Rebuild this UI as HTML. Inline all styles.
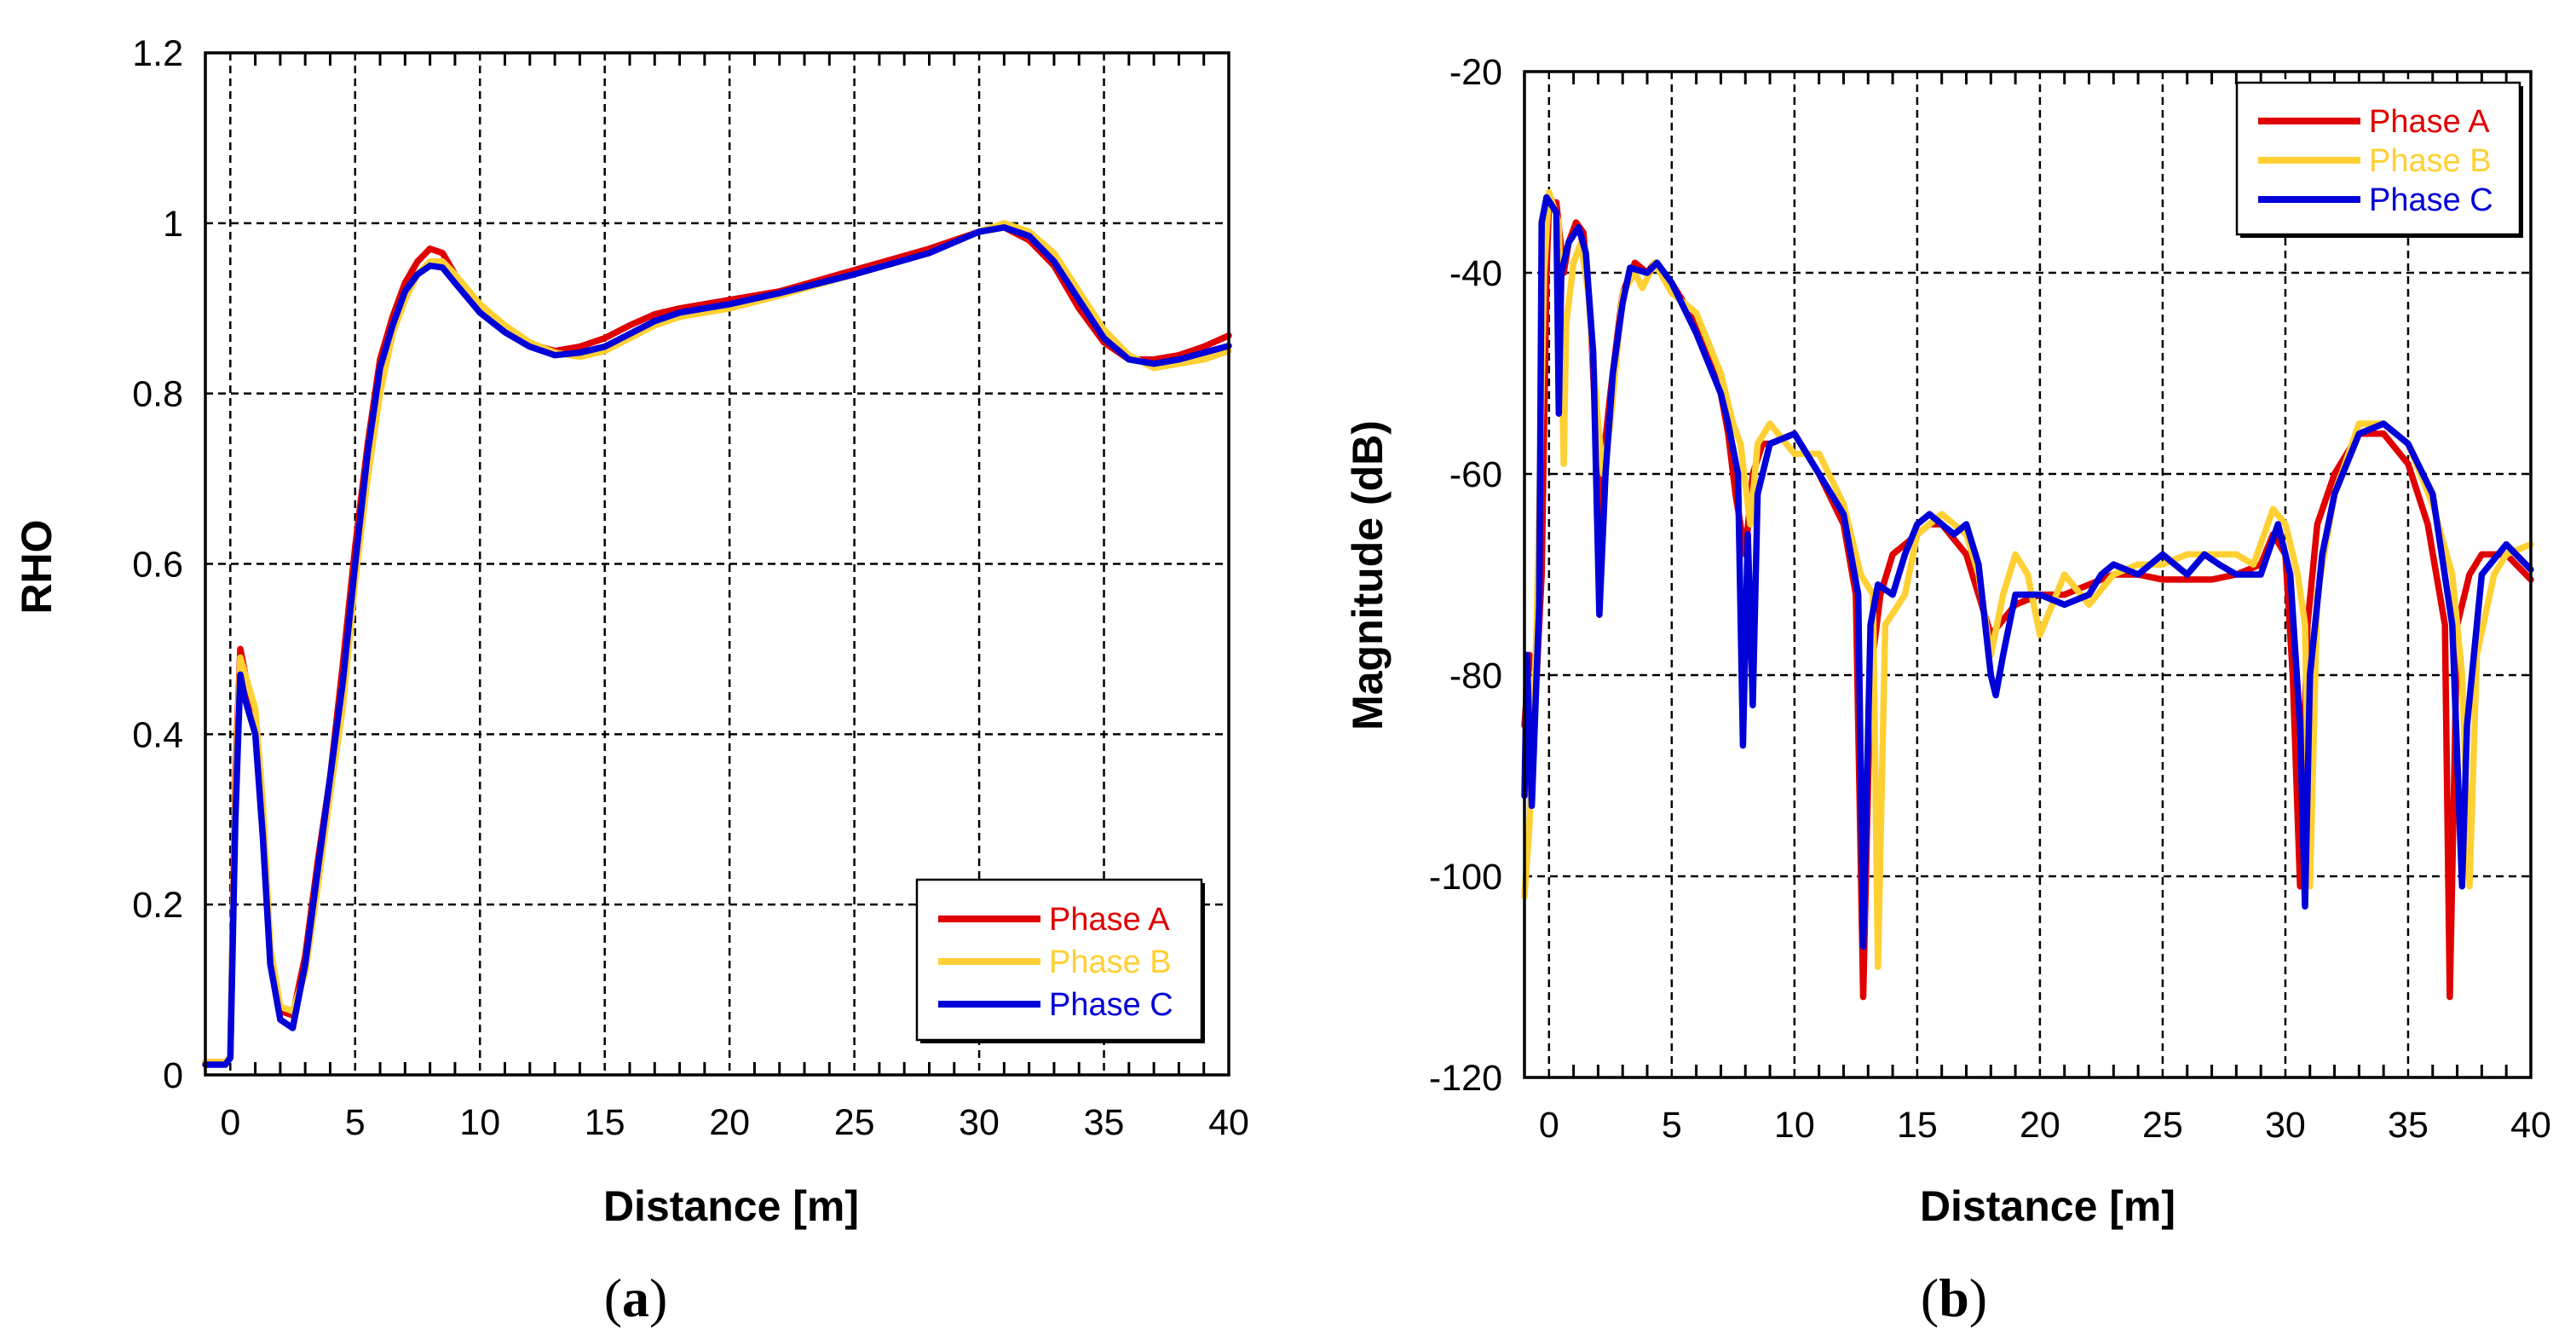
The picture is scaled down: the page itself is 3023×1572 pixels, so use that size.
<!DOCTYPE html>
<html><head><meta charset="utf-8"><style>
html,body{margin:0;padding:0;background:#fff;}
svg{display:block;font-family:"Liberation Sans",Arial,sans-serif;}
</style></head><body>
<svg id="fig" width="3023" height="1572" viewBox="0 0 3023 1572" xmlns="http://www.w3.org/2000/svg">
<g id="chartA"></g>
<g id="chartB"></g>
<text x="858" y="1432" font-size="50" font-weight="bold" text-anchor="middle">Distance [m]</text>
<text x="2403" y="1432" font-size="50" font-weight="bold" text-anchor="middle">Distance [m]</text>
<text transform="translate(60,665) rotate(-90)" font-size="50" font-weight="bold" text-anchor="middle">RHO</text>
<text transform="translate(1622,675) rotate(-90)" font-size="50" font-weight="bold" text-anchor="middle">Magnitude (dB)</text>
<text x="746" y="1544" font-size="64" font-family="Liberation Serif,serif" text-anchor="middle">(<tspan font-weight="bold">a</tspan>)</text>
<text x="2293" y="1544" font-size="64" font-family="Liberation Serif,serif" text-anchor="middle">(<tspan font-weight="bold">b</tspan>)</text>
</svg>
<script>
// ---- Chart (a) data: RHO ----
const rhoXA=[-1,-0.2,0,0.2,0.4,0.6,1,1.3,1.6,2,2.5,3,3.5,4,4.5,5,5.5,6,6.5,7,7.5,8,8.5,9,10,11,12,13,14,15,16,17,18,20,22,25,28,30,31,32,33,34,35,36,37,38,39,40];
const rhoA=[0.015,0.015,0.02,0.35,0.5,0.47,0.42,0.3,0.14,0.075,0.07,0.14,0.25,0.35,0.48,0.62,0.74,0.84,0.89,0.93,0.955,0.97,0.965,0.94,0.9,0.875,0.858,0.85,0.855,0.865,0.88,0.893,0.9,0.91,0.92,0.945,0.97,0.99,0.995,0.98,0.95,0.9,0.86,0.84,0.84,0.845,0.855,0.868];
const rhoXB=[-1,-0.2,0,0.2,0.4,0.6,1,1.3,1.6,2,2.5,3,3.5,4,4.5,5,5.5,6,6.5,7,7.5,8,8.5,9,10,11,12,13,14,15,16,17,18,20,22,25,28,30,31,32,33,34,35,36,37,38,39,40];
const rhoB=[0.015,0.015,0.02,0.33,0.49,0.47,0.43,0.32,0.15,0.08,0.075,0.12,0.22,0.33,0.43,0.58,0.7,0.8,0.87,0.91,0.94,0.955,0.955,0.94,0.905,0.88,0.86,0.848,0.843,0.85,0.865,0.88,0.89,0.9,0.915,0.94,0.965,0.99,1.0,0.99,0.965,0.92,0.875,0.845,0.83,0.835,0.84,0.85];
const rhoXC=[-1,-0.2,0,0.2,0.4,0.6,1,1.3,1.6,2,2.5,3,3.5,4,4.5,5,5.5,6,6.5,7,7.5,8,8.5,9,10,11,12,13,14,15,16,17,18,20,22,25,28,30,31,32,33,34,35,36,37,38,39,40];
const rhoC=[0.012,0.012,0.02,0.3,0.47,0.44,0.4,0.28,0.13,0.065,0.055,0.13,0.24,0.35,0.46,0.6,0.73,0.83,0.88,0.92,0.94,0.95,0.948,0.93,0.895,0.872,0.855,0.845,0.848,0.855,0.87,0.885,0.895,0.905,0.918,0.94,0.965,0.99,0.995,0.985,0.955,0.91,0.865,0.84,0.835,0.84,0.848,0.856];
const rhoYTicks=[0,0.2,0.4,0.6,0.8,1,1.2];
const rhoYLabels=["0","0.2","0.4","0.6","0.8","1","1.2"];
// ---- Chart (b) data: Magnitude dB ----
const magXA=[-1,-0.8,-0.5,-0.3,-0.1,0,0.3,0.6,0.8,1.1,1.4,1.7,1.9,2.05,2.15,2.5,3,3.5,4,4.3,5,6,7,7.3,7.6,8,8.3,8.7,9,10,11,12,12.5,12.8,13.1,13.5,14,14.5,15,15.5,16,17,17.5,18,19,20,21,22,23,24,25,26,27,28,29,29.5,30,30.3,30.6,30.9,31.3,32,33,34,35,35.8,36.5,36.7,37,37.5,38,39,40];
const magA=[-85,-78,-80,-70,-40,-33,-33,-40,-37,-35,-36,-45,-55,-72,-60,-52,-42,-39,-40,-39,-41,-45,-52,-56,-62,-68,-60,-57,-57,-56,-60,-65,-72,-112,-80,-72,-68,-67,-66,-65,-65,-68,-72,-76,-73,-72,-72,-71,-70,-70,-70.5,-70.5,-70.5,-70,-69,-66,-68,-80,-101,-75,-65,-60,-56,-56,-59,-65,-75,-112,-75,-70,-68,-68,-70.5];
const magXB=[-1,-0.8,-0.5,-0.2,0,0.4,0.6,0.7,1,1.3,1.6,2,2.2,2.5,3,3.5,3.8,4.3,5,6,7,7.5,7.8,8.2,8.5,9,10,11,12,12.7,13.2,13.4,13.7,14.5,15,16,17,17.5,18,18.5,19,19.5,20,20.5,21,22,23,24,25,26,27,28,28.7,29.5,30,30.5,30.8,31,31.3,32,33,34,35,36,36.8,37.2,37.5,37.8,38.5,39,40];
const magB=[-102,-95,-75,-40,-32,-35,-59,-45,-39,-37,-42,-55,-60,-55,-42,-40,-41.5,-39,-42,-44,-50,-55,-57,-65,-57,-55,-58,-58,-63,-70,-72,-109,-75,-72,-66,-64,-66,-70,-78,-72,-68,-70,-76,-73,-70,-73,-70,-69,-69,-68,-68,-68,-69,-63.5,-65,-70,-75,-101,-72,-62,-55,-55,-57,-63,-70,-80,-101,-78,-70,-68,-67];
const magXC=[-1,-0.9,-0.7,-0.4,-0.3,-0.1,0.3,0.4,0.5,0.8,1.2,1.5,1.8,2.05,2.3,2.6,3,3.3,4,4.4,5,6,7,7.3,7.7,7.9,8.1,8.3,8.5,9,10,11,12,12.6,12.8,13.1,13.4,14,14.5,15,15.5,16,16.5,17,17.5,18,18.2,18.5,19,20,21,22,22.5,23,24,25,26,26.7,27.3,28,29,29.7,30.2,30.6,30.8,31,31.5,32,33,34,35,36,36.8,37.2,37.4,38,39,40];
const magC=[-92,-78,-93,-73,-35,-32.5,-34,-54,-40,-37,-35.5,-38,-48,-74,-60,-50,-43,-39.5,-40,-39,-41,-46,-52,-55,-60,-87,-66,-83,-62,-57,-56,-60,-64,-72,-107,-75,-71,-72,-68,-65,-64,-65,-66,-65,-69,-80,-82,-78,-72,-72,-73,-72,-70,-69,-70,-68,-70,-68,-69,-70,-70,-65,-70,-85,-103,-80,-68,-62,-56,-55,-57,-62,-75,-101,-85,-70,-67,-69.5];
const magYTicks=[-120,-100,-80,-60,-40,-20];
const magYLabels=["-120","-100","-80","-60","-40","-20"];
const xTicks=[0,5,10,15,20,25,30,35,40];
const xLabels=["0","5","10","15","20","25","30","35","40"];
const seriesNames=["Phase A","Phase B","Phase C"];
const colors=["#e00000","#ffd033","#0000d8"];

const NS="http://www.w3.org/2000/svg";
function mk(parent,tag,attrs){const e=document.createElementNS(NS,tag);for(const k in attrs)e.setAttribute(k,attrs[k]);parent.appendChild(e);return e;}

function drawChart(g,cfg){
  const sx=v=>cfg.L+(v-cfg.xmin)/(cfg.xmax-cfg.xmin)*(cfg.R-cfg.L);
  const sy=v=>cfg.B-(v-cfg.ymin)/(cfg.ymax-cfg.ymin)*(cfg.B-cfg.T);
  cfg.yTicks.forEach((t,i)=>{
    if(t!==cfg.ymin&&t!==cfg.ymax){const l=mk(g,'line',{x1:cfg.L,x2:cfg.R,y1:sy(t),y2:sy(t),stroke:'#000','stroke-width':2.5,'stroke-dasharray':'9 6'});
    
    }
    const tx=mk(g,'text',{x:cfg.L-26,y:sy(t)+15,'font-size':43,'text-anchor':'end'});
    tx.textContent=cfg.yLabels[i];
    
    
  });
  xTicks.forEach((t,i)=>{
    if(t!==cfg.xmax){const l=mk(g,'line',{x1:sx(t),x2:sx(t),y1:cfg.T,y2:cfg.B,stroke:'#000','stroke-width':2.5,'stroke-dasharray':'9 6'});
    
    }
    const tx=mk(g,'text',{x:sx(t),y:cfg.B+70,'font-size':43,'text-anchor':'middle'});
    tx.textContent=xLabels[i];
    
    
  });
  for(let v=Math.ceil(cfg.xmin);v<cfg.xmax;v++){
    if(v%5===0) continue;
    const a=mk(g,'line',{x1:sx(v),x2:sx(v),y1:cfg.T,y2:cfg.T+15,stroke:'#000','stroke-width':3});
    
    
    const b=mk(g,'line',{x1:sx(v),x2:sx(v),y1:cfg.B,y2:cfg.B-15,stroke:'#000','stroke-width':3});
    
    
  }
  cfg.series.forEach((s,i)=>{
    const d=s.x.map((xv,j)=>(j?'L':'M')+sx(xv).toFixed(1)+' '+sy(s.y[j]).toFixed(1)).join(' ');
    const p=mk(g,'path',{d:d,fill:'none',stroke:colors[i],'stroke-width':7.5,'stroke-linejoin':'round','stroke-linecap':'round'});
    
    
  });
  const fr=mk(g,'rect',{x:cfg.L,y:cfg.T,width:cfg.R-cfg.L,height:cfg.B-cfg.T,fill:'none',stroke:'#000','stroke-width':3.5});
  
  
  const lg=cfg.legend;
  const lgG=mk(g,'g',{});
  
  
  mk(lgG,'rect',{x:lg.x+4,y:lg.y+4,width:lg.w,height:lg.h,fill:'#000'});
  mk(lgG,'rect',{x:lg.x,y:lg.y,width:lg.w,height:lg.h,fill:'#fff',stroke:'#000','stroke-width':2.5});
  seriesNames.forEach((n,i)=>{
    const yy=lg.y+lg.r0+i*lg.dy;
    const ln=mk(lgG,'line',{x1:lg.x+25,x2:lg.x+145,y1:yy,y2:yy,stroke:colors[i],'stroke-width':8});
    
    
    const t=mk(lgG,'text',{x:lg.x+155,y:yy+13,'font-size':38,fill:colors[i]});
    t.textContent=n;
    
    
  });
}

drawChart(document.getElementById('chartA'),{L:241,R:1442,T:62,B:1261,xmin:-1,xmax:40,ymin:0,ymax:1.2,
  yTicks:rhoYTicks,yLabels:rhoYLabels,
  series:[{x:rhoXA,y:rhoA},{x:rhoXB,y:rhoB},{x:rhoXC,y:rhoC}],
  legend:{x:1076,y:1032,w:334,h:188,r0:46,dy:50}});
drawChart(document.getElementById('chartB'),{L:1789,R:2970,T:84,B:1264,xmin:-1,xmax:40,ymin:-120,ymax:-20,
  yTicks:magYTicks,yLabels:magYLabels,
  series:[{x:magXA,y:magA},{x:magXB,y:magB},{x:magXC,y:magC}],
  legend:{x:2625,y:97,w:332,h:178,r0:45,dy:46}});
</script>
</body></html>
